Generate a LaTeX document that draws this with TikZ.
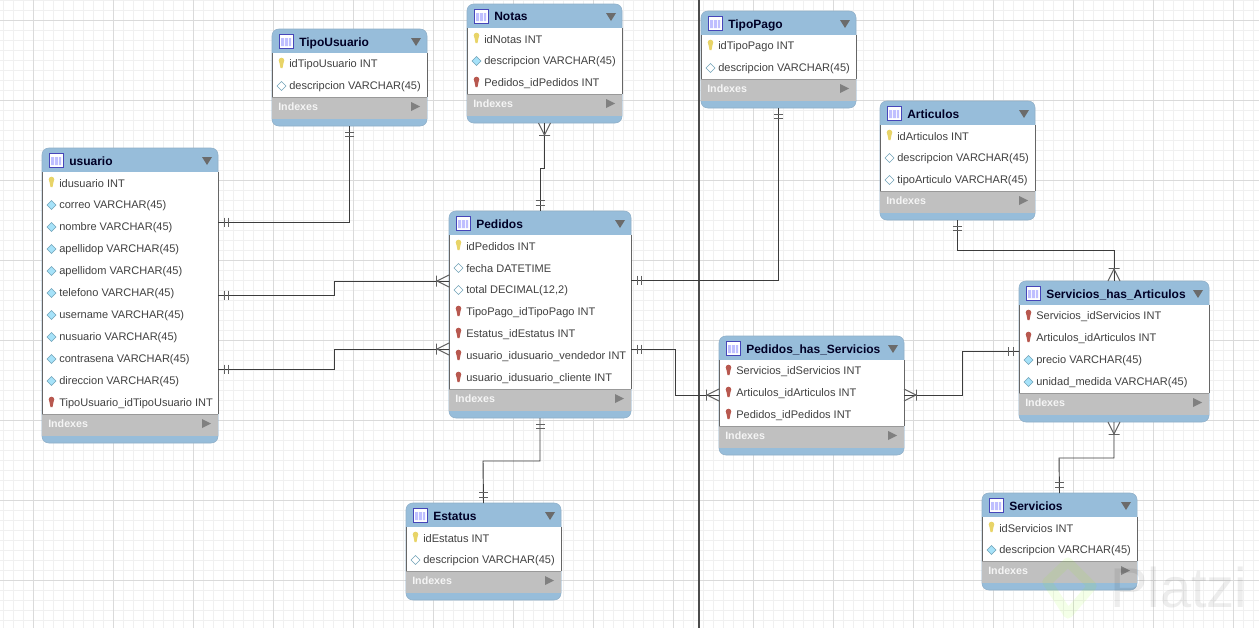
\documentclass[tikz,border=0pt]{standalone}
\usepackage{fontspec}
\setmainfont{Liberation Sans}
\usetikzlibrary{calc}
\definecolor{hdr}{HTML}{97BDDA}
\definecolor{idx}{HTML}{C0C0C0}
\definecolor{edge}{HTML}{8FAFC8}
\definecolor{gridc}{HTML}{DADADA}
\definecolor{wire}{HTML}{3C3C3C}
\definecolor{tick}{HTML}{606060}
\definecolor{keyy}{HTML}{E8D468}
\definecolor{keyr}{HTML}{B8584F}
\newcommand{\ertable}[7]{% name, x, y, w, title, nrows, rows(kind/text)
  \pgfmathsetmacro{\tb}{#3+24+22*#6+29}
  \pgfmathsetmacro{\th}{#3+24}
  \pgfmathsetmacro{\tr}{#3+24+22*#6}
  \pgfmathsetmacro{\ti}{\tr+22}
  \pgfmathsetmacro{\tx}{#2+#4}
  \node[tablebody,minimum width=#4*0.75pt,minimum height=(\tb-#3)*0.75pt,anchor=north west] (#1) at (#2,#3) {};
  \fill[idx] (#2,\tr) rectangle (\tx,\ti);
  \fill[white] (#2,\th) rectangle (\tx,\tr);
  \draw[rowedge] (#2,\th) -- (#2,\tr) (\tx,\tr) -- (\tx,\th);
  \draw[rowfoot] (#2,\tr) -- (\tx,\tr);
  \draw[tableicon] (#2+7,#3+5) rectangle (#2+21,#3+19);
  \fill[white] (#2+9,#3+7) rectangle (#2+19,#3+17);
  \fill[blue!25!white] (#2+9,#3+9) rectangle (#2+12,#3+17) (#2+13,#3+9) rectangle (#2+16,#3+17) (#2+17,#3+9) rectangle (#2+19,#3+17);
  \node[titletext] (#1title) at (#2+27,#3+13) {#5};
  \fill[droptri] (\tx-16,#3+9) -- (\tx-6,#3+9) -- (\tx-11,#3+17) -- cycle;
  \node[idxtext] (#1idx) at (#2+6,\tr+10) {Indexes};
  \fill[playtri] (\tx-16,\tr+5) -- (\tx-16,\tr+14) -- (\tx-7,\tr+9.5) -- cycle;
  \foreach \k/\t [count=\i] in {#7} {
    \pgfmathsetmacro{\ry}{\th+22*\i-11}
    \csname icon\k\endcsname{#2+9.5}{\ry}
    \node[rowtext] (#1row\i) at (#2+17,\ry+0.5) {\t};
  }
}
\newcommand{\iconK}[2]{\fill[keyy] (#1,#2-3.5) circle (2.8);\fill[keyy] (#1-2.4,#2-3) -- (#1+2.4,#2-3) -- (#1+1,#2+4) -- (#1-1,#2+4) -- cycle;}
\newcommand{\iconF}[2]{\fill[keyr] (#1,#2-3.5) circle (2.8);\fill[keyr] (#1-2.4,#2-3) -- (#1+2.4,#2-3) -- (#1+1,#2+4) -- (#1-1,#2+4) -- cycle;}
\newcommand{\iconD}[2]{\filldraw[fill=cyan!35!white,draw=gray!60!cyan,line width=0.4pt] (#1-4.5,#2) -- (#1,#2-4.5) -- (#1+4.5,#2) -- (#1,#2+4.5) -- cycle;}
\newcommand{\iconH}[2]{\filldraw[fill=white,draw=gray!60!cyan,line width=0.5pt] (#1-4.5,#2) -- (#1,#2-4.5) -- (#1+4.5,#2) -- (#1,#2+4.5) -- cycle;}
\tikzset{
  x=0.75pt,y=-0.75pt,
  tablebody/.style={draw=edge,line width=0.4pt,fill=hdr,rounded corners=5pt,inner sep=0pt,outer sep=0pt},
  rowedge/.style={draw=black!60,line width=0.6pt},
  rowfoot/.style={draw=black!40,line width=0.5pt},
  tableicon/.style={draw=blue!45!gray,fill=white,line width=0.7pt},
  titletext/.style={anchor=base west,yshift=-3pt,inner sep=0pt,font=\fontsize{9}{10}\selectfont\bfseries,text=black!85!blue},
  rowtext/.style={anchor=west,inner sep=0pt,font=\fontsize{8.27}{10}\selectfont,text=black!75},
  idxtext/.style={anchor=west,inner sep=0pt,font=\fontsize{8}{10}\selectfont\bfseries,text=white!92!gray},
  droptri/.style={fill=black!58},
  playtri/.style={fill=black!50},
  link/.style={draw=wire,line width=0.7pt},
  erone/.pic={\draw[tick,line width=0.7pt] (6,-4.5)--(6,4.5) (10.5,-4.5)--(10.5,4.5);},
  ermany/.pic={\draw[tick,line width=0.7pt] (0,-6)--(12,0)--(0,6) (12.5,-5.5)--(12.5,5.5);},
}
\begin{document}
\begin{tikzpicture}
\useasboundingbox (0,0) rectangle (1259,628);
\fill[white] (0,0) rectangle (1259,628);
\foreach \gx in {3.3,13.3,...,1259} \draw[gridc!40!white,line width=0.4pt] (\gx,0)--(\gx,628);
\foreach \gy in {0,10,...,628} \draw[gridc!40!white,line width=0.4pt] (0,\gy)--(1259,\gy);
\foreach \gx in {33.3,113.3,...,1259} \draw[gridc,line width=0.45pt] (\gx,0)--(\gx,628);
\foreach \gy in {20,100,...,628} \draw[gridc,line width=0.45pt] (0,\gy)--(1259,\gy);
\coordinate (divtop) at (699,0);
\coordinate (divbot) at (699,628);
\draw[black!70,line width=1.3pt] (divtop)--(divbot);

\ertable{usuario}{42}{148}{176}{usuario}{11}{K/idusuario INT,D/correo VARCHAR(45),D/nombre VARCHAR(45),D/apellidop VARCHAR(45),D/apellidom VARCHAR(45),D/telefono VARCHAR(45),D/username VARCHAR(45),D/nusuario VARCHAR(45),D/contrasena VARCHAR(45),D/direccion VARCHAR(45),F/TipoUsuario\_idTipoUsuario INT}
\ertable{tipousuario}{272}{29}{155}{TipoUsuario}{2}{K/idTipoUsuario INT,H/descripcion VARCHAR(45)}
\ertable{notas}{467}{4}{155}{Notas}{3}{K/idNotas INT,D/descripcion VARCHAR(45),F/Pedidos\_idPedidos INT}
\ertable{tipopago}{701}{11}{155}{TipoPago}{2}{K/idTipoPago INT,H/descripcion VARCHAR(45)}
\ertable{articulos}{880}{101}{155}{Articulos}{3}{K/idArticulos INT,H/descripcion VARCHAR(45),H/tipoArticulo VARCHAR(45)}
\ertable{pedidos}{449}{211}{182}{Pedidos}{7}{K/idPedidos INT,H/fecha DATETIME,H/{total DECIMAL(12,2)},F/TipoPago\_idTipoPago INT,F/Estatus\_idEstatus INT,F/usuario\_idusuario\_vendedor INT,F/usuario\_idusuario\_cliente INT}
\ertable{estatus}{406}{503}{155}{Estatus}{2}{K/idEstatus INT,H/descripcion VARCHAR(45)}
\ertable{phs}{719}{336}{185}{Pedidos\_has\_Servicios}{3}{F/Servicios\_idServicios INT,F/Articulos\_idArticulos INT,F/Pedidos\_idPedidos INT}
\ertable{sha}{1019}{281}{190}{Servicios\_has\_Articulos}{4}{F/Servicios\_idServicios INT,F/Articulos\_idArticulos INT,D/precio VARCHAR(45),D/unidad\_medida VARCHAR(45)}
\ertable{servicios}{982}{493}{155}{Servicios}{2}{K/idServicios INT,D/descripcion VARCHAR(45)}

% connectors
\draw[link] (usuario.east |- 0,222) -| (tipousuario.south);
\pic[rotate=0] at (usuario.east |- 0,222) {erone};
\pic[rotate=-90] at (tipousuario.south) {erone};

\draw[link] (notas.south) -- (notas.south |- 0,168) -| (pedidos.north);
\pic[rotate=-90] at (notas.south) {ermany};
\pic[rotate=90] at (pedidos.north) {erone};

\draw[link] (tipopago.south) |- (pedidos.east |- 0,280);
\pic[rotate=-90] at (tipopago.south) {erone};
\pic[rotate=0] at (pedidos.east |- 0,280) {erone};

\draw[link] (usuario.east |- 0,295) -| (334,281) -- (pedidos.west |- 0,281);
\pic[rotate=0] at (usuario.east |- 0,295) {erone};
\pic[rotate=180] at (pedidos.west |- 0,281) {ermany};

\draw[link] (usuario.east |- 0,369) -| (334,349) -- (pedidos.west |- 0,349);
\pic[rotate=0] at (usuario.east |- 0,369) {erone};
\pic[rotate=180] at (pedidos.west |- 0,349) {ermany};

\draw[link] (pedidos.east |- 0,349) -| (675,395) -- (phs.west |- 0,395);
\pic[rotate=0] at (pedidos.east |- 0,349) {erone};
\pic[rotate=180] at (phs.west |- 0,395) {ermany};

\draw[link] (phs.east |- 0,395) -| (962,351) -- (sha.west |- 0,351);
\pic[rotate=0] at (phs.east |- 0,395) {ermany};
\pic[rotate=180] at (sha.west |- 0,351) {erone};

\draw[link] (articulos.south) |- (1114,250) -- (sha.north);
\pic[rotate=-90] at (articulos.south) {erone};
\pic[rotate=90] at (sha.north) {ermany};

\draw[link] (sha.south) |- (1059,458) -- (servicios.north);
\pic[rotate=-90] at (sha.south) {ermany};
\pic[rotate=90] at (servicios.north) {erone};

\draw[link] (pedidos.south) |- (483,461) -- (estatus.north);
\pic[rotate=-90] at (pedidos.south) {erone};
\pic[rotate=90] at (estatus.north) {erone};

% watermark
\draw[green!45!yellow,opacity=0.09,line width=7pt,line join=round] (1047,582) -- (1068,562) -- (1092,586) -- (1068,614) -- cycle;
\node[anchor=base west,inner sep=0pt,font=\fontsize{42}{44}\selectfont,text=black,opacity=0.07] (wm) at (1110,607) {Platzi};
\end{tikzpicture}
\end{document}
